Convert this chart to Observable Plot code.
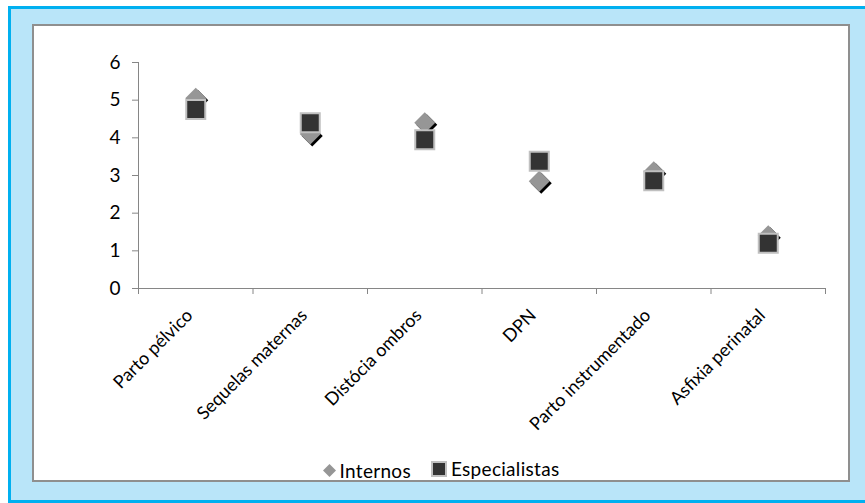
<!DOCTYPE html>
<html>
<head>
<meta charset="utf-8">
<script src="https://cdn.jsdelivr.net/npm/d3@7"></script>
<script src="https://cdn.jsdelivr.net/npm/@observablehq/plot@0.6"></script>
<style>
  body { margin:0; width:865px; height:503px; position:relative; overflow:hidden; background:#fff; font-family: Lato, sans-serif; }
  #outer { position:absolute; left:8px; top:6px; width:870px; height:497px; box-sizing:border-box; border:3px solid #00b0f0; background:#b9e5f9; }
  #box { position:absolute; left:32px; top:24px; width:818px; height:458px; box-sizing:border-box; border:2px solid #8f8f8f; background:#fff; }
  #chart { position:absolute; left:32px; top:24px; }
  #legend { position:absolute; left:32px; top:457px; width:818px; height:24px; line-height:24px; text-align:center; font-size:19px; color:#000; letter-spacing:0.3px; }
  .item { display:inline-flex; align-items:center; margin:0 10px; }
  .sw { margin-right:4px; }
</style>
</head>
<body>
<div id="outer"></div>
<div id="box"></div>
<div id="chart"></div>
<div id="legend"></div>
<script>
const categories = ["Parto pélvico", "Sequelas maternas", "Distócia ombros", "DPN", "Parto instrumentado", "Asfixia perinatal"];
const internos = [5.05, 4.1, 4.4, 2.85, 3.1, 1.4];
const especialistas = [4.75, 4.4, 3.95, 3.38, 2.86, 1.2];
const yTicks = [0, 1, 2, 3, 4, 5, 6];
const seriesNames = ["Internos", "Especialistas"];

const boundaryTicks = d3.range(categories.length + 1);
const centerTicks = categories.map((c, i) => i + 0.5);

const rowsI = categories.map((c, i) => ({pos: i + 0.5, value: internos[i]}));
const rowsE = categories.map((c, i) => ({pos: i + 0.5, value: especialistas[i]}));

const square = {draw(ctx, size) { const h = Math.sqrt(size / Math.PI); ctx.moveTo(-h, -h); ctx.lineTo(h, -h); ctx.lineTo(h, h); ctx.lineTo(-h, h); ctx.closePath(); }};
const diamond = {draw(ctx, size) { const h = Math.sqrt(size / Math.PI); ctx.moveTo(0, -h); ctx.lineTo(h, 0); ctx.lineTo(0, h); ctx.lineTo(-h, 0); ctx.closePath(); }};

const gray = "#868686";
const chart = Plot.plot({
  width: 818,
  height: 432,
  marginLeft: 106,
  marginRight: 25,
  marginTop: 38,
  marginBottom: 168,
  style: {fontFamily: "Lato, sans-serif", fontSize: "19px", background: "transparent", color: "#000"},
  x: {type: "linear", domain: [0, categories.length], label: null},
  y: {domain: [0, 6], label: null},
  marks: [
    Plot.ruleX([0], {stroke: gray}),
    Plot.ruleY([0], {stroke: gray}),
    Plot.axisY({ticks: yTicks, tickSize: 6, tickPadding: 12, stroke: gray, fill: "#000", fontSize: 19, tickFormat: d3.format("d")}),
    Plot.axisX({ticks: boundaryTicks, tickSize: 6, tickFormat: () => "", stroke: gray}),
    Plot.axisX({ticks: centerTicks, tickSize: 0, tickPadding: 24, dx: -6, tickRotate: -45, fill: "#000", fontSize: 18,
      tickFormat: d => categories[Math.floor(d)]}),
    Plot.dot(rowsI, {x: "pos", y: "value", r: 10.5, symbol: diamond, fill: "#000", stroke: "none", dx: 2, dy: 2}),
    Plot.dot(rowsI, {x: "pos", y: "value", r: 10.5, symbol: diamond, fill: "#969696", stroke: "none"}),
    Plot.dot(rowsE, {x: "pos", y: "value", r: 9.5, symbol: square, fill: "#333333", stroke: "#c0c0c0", strokeWidth: 2})
  ]
});
document.getElementById("chart").appendChild(chart);

const legend = document.getElementById("legend");
legend.innerHTML =
  `<span class="item"><svg class="sw" width="13" height="13"><path d="M6.5,0L13,6.5L6.5,13L0,6.5Z" fill="#969696"/></svg>${seriesNames[0]}</span>` +
  `<span class="item"><svg class="sw" width="16" height="16"><rect x="1" y="1" width="14" height="14" fill="#333" stroke="#c0c0c0" stroke-width="2"/></svg>${seriesNames[1]}</span>`;
</script>
</body>
</html>
